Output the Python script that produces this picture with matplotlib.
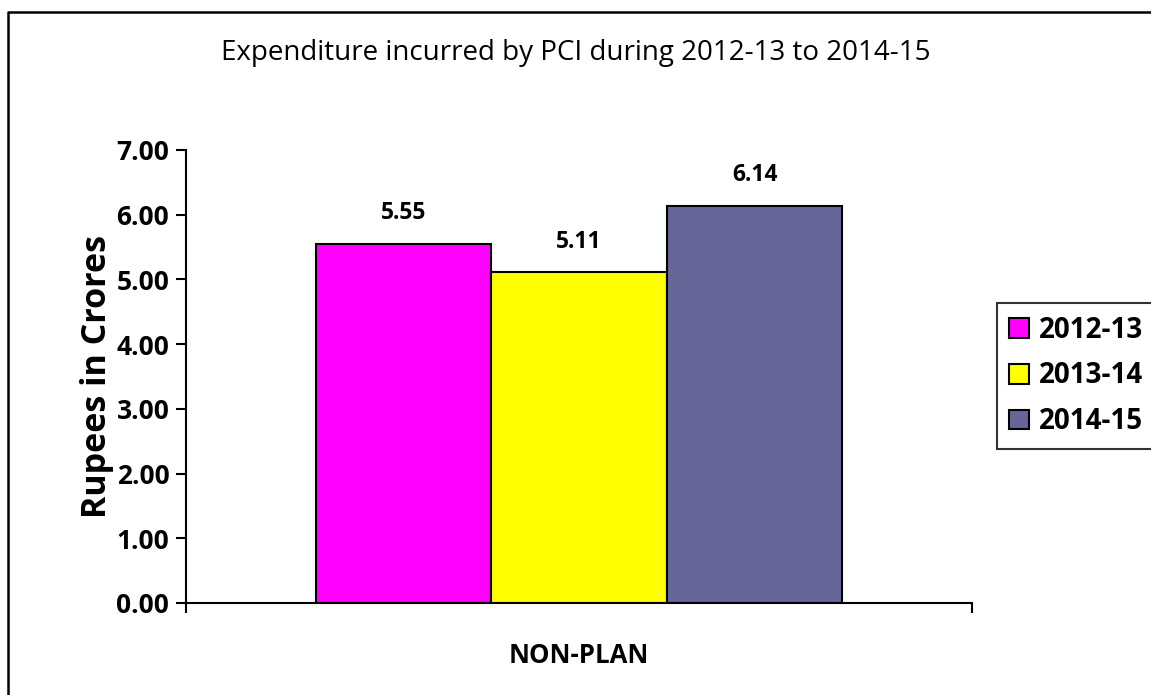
import numpy
from matplotlib import pyplot
from matplotlib.lines import Line2D

# Chart data
categories = ["NON-PLAN"]
years = ["2012-13", "2013-14", "2014-15"]
values = [5.55, 5.11, 6.14]
colours = ["#FF00FF", "#FFFF00", "#666699"]

pyplot.rcParams["font.family"] = ["Open Sans", "DejaVu Sans"]

fig = pyplot.figure(figsize=(11.51, 6.95), dpi=100)
ax = fig.add_axes([0.1616, 0.1324, 0.6829, 0.6518])

# Bars
width = 0.2233
x = numpy.arange(len(categories))
for i, (year, val) in enumerate(zip(years, values)):
    pos = x + (i - 1) * width
    ax.bar(pos, [val], width=width, color=colours[i], edgecolor="black",
           linewidth=1.5, label=year)
    ax.annotate(f"{val:.2f}", (pos[0], val), xytext=(0, 22),
                textcoords="offset points", ha="center", va="center",
                fontsize=16.5, fontweight="bold")

ax.set_xlim(-0.5, 0.5)
ax.set_ylim(0, 7)
ax.set_yticks(numpy.arange(0, 8, 1))
ax.set_yticklabels([f"{v:.2f}" for v in range(8)], fontsize=19, fontweight="bold")
ax.set_xticks([-0.5, 0.5])
ax.set_xticklabels(["", ""])
ax.set_xticks(x, minor=True)
ax.set_xticklabels(categories, minor=True, fontsize=18.5, fontweight="bold")
ax.tick_params(axis="x", which="minor", length=0, pad=28)
ax.tick_params(axis="both", which="major", direction="out", length=7, width=1.5)
ax.tick_params(axis="y", pad=5)
for side in ["top", "right"]:
    ax.spines[side].set_visible(False)
for side in ["left", "bottom"]:
    ax.spines[side].set_linewidth(1.5)

ax.set_ylabel("Rupees in Crores", fontsize=24.5, fontweight="bold", labelpad=2)

fig.text(0.500, 0.924, "Expenditure incurred by PCI during 2012-13 to 2014-15",
         ha="center", va="center", fontsize=20)

leg = ax.legend(loc="center left", bbox_to_anchor=(0.866, 0.459),
                bbox_transform=fig.transFigure,
                prop={"weight": "bold", "size": 20}, frameon=True, fancybox=False,
                edgecolor="black", handlelength=0.72, handleheight=0.72,
                handletextpad=0.35, labelspacing=0.6, borderpad=0.45,
                borderaxespad=0)
leg.get_frame().set_linewidth(1.5)

# Outer frame (only top and left edges fall inside the image)
fig.lines.append(Line2D([0.007, 0.007, 1.0], [0.0, 0.983, 0.983],
                        transform=fig.transFigure, color="black", linewidth=1.8))

pyplot.savefig("out.png", dpi=100)
